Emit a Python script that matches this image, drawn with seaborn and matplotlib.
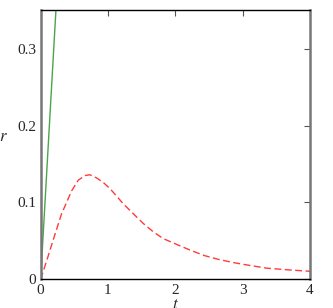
import numpy as np
import pandas as pd
import matplotlib
matplotlib.use("Agg")
import matplotlib.pyplot as plt
import seaborn as sns

# values
t_green = [0.0, 0.25]
r_green = [0.0, 0.385]

t_red = [0.0, 0.1, 0.2, 0.31, 0.39, 0.46, 0.56, 0.66, 0.73, 0.83, 0.93,
         1.03, 1.15, 1.23, 1.38, 1.52, 1.67, 1.82, 2.04, 2.24, 2.44, 2.64,
         2.84, 3.01, 3.36, 3.7, 4.0]
r_red = [0.0, 0.027, 0.055, 0.085, 0.101, 0.115, 0.129, 0.135, 0.136, 0.132, 0.126,
         0.118, 0.106, 0.098, 0.085, 0.073, 0.062, 0.053, 0.0447, 0.0373, 0.0307, 0.026,
         0.0222, 0.0195, 0.0145, 0.0122, 0.0105]

xticks = [0, 1, 2, 3, 4]
yticks = [0, 0.1, 0.2, 0.3]
ytick_labels = ["0", "0.1", "0.2", "0.3"]

sns.set_style("white")
plt.rcParams['font.family'] = 'serif'
plt.rcParams['font.serif'] = ['Liberation Serif', 'DejaVu Serif']
plt.rcParams['mathtext.fontset'] = 'stix'

df_green = pd.DataFrame({'t': t_green, 'r': r_green})
df_red = pd.DataFrame({'t': t_red, 'r': r_red})

fig = plt.figure(figsize=(3.33, 3.08), dpi=100)
ax = fig.add_axes([0.122, 0.093, 0.809, 0.874])

sns.lineplot(data=df_green, x='t', y='r', ax=ax, color='#4aa54a', lw=1.0)
sns.lineplot(data=df_red, x='t', y='r', ax=ax, color='#ff3b3b', lw=1.0,
             linestyle=(0, (5, 2.5)))

ax.set_xlim(0, 4)
ax.set_ylim(0, 0.35)
ax.set_xticks(xticks)
ax.set_xticklabels([str(x) for x in xticks], fontfamily='Liberation Serif')
ax.set_yticks(yticks)
ax.set_yticklabels(ytick_labels, fontfamily='Liberation Serif')
ax.tick_params(direction='in', length=4, width=0.8, top=True, right=True,
               labelsize=11, color='#555555', pad=3)

for side in ['left', 'right']:
    ax.spines[side].set_color('#777777')
    ax.spines[side].set_linewidth(1.8)
for side in ['top', 'bottom']:
    ax.spines[side].set_color('black')
    ax.spines[side].set_linewidth(1.0)

ax.set_xlabel('$t$', fontsize=12, labelpad=0)
ax.set_ylabel('$r$', fontsize=12, rotation=0, labelpad=10)

fig.savefig('out.png', dpi=100)
